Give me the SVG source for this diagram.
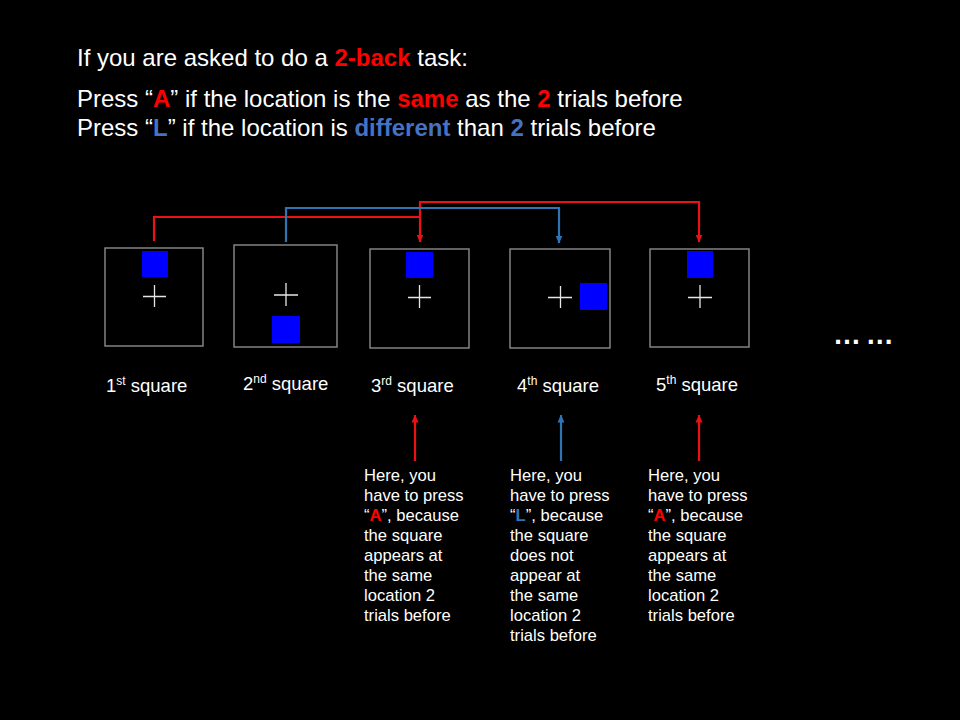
<svg xmlns="http://www.w3.org/2000/svg" width="960" height="720" viewBox="0 0 960 720">
<style>
text{font-family:"Liberation Sans",Arial,sans-serif;fill:#fff}
.h{font-size:24px}
.lab{font-size:18.5px}
.sup{font-size:12px}
.note{font-size:16.6px}
.r{fill:#ff0000;font-weight:bold}
.b{fill:#4472c4;font-weight:bold}
.box{fill:none;stroke:#8c8c8c;stroke-width:1.4}
.x{stroke:#e6e6e6;stroke-width:1.3;fill:none}
.sq{fill:#0000ff}
.cr{fill:none;stroke:#ee1111;stroke-width:2.2}
.cb{fill:none;stroke:#2e75b6;stroke-width:2.2}
</style>
<defs>
<marker id="ar" viewBox="0 0 8 8" refX="7.5" refY="4" markerWidth="8" markerHeight="8" markerUnits="userSpaceOnUse" orient="auto"><path d="M0,0.5 L8,4 L0,7.5 Z" fill="#ee1111"/></marker>
<marker id="ab" viewBox="0 0 8 8" refX="7.5" refY="4" markerWidth="8" markerHeight="8" markerUnits="userSpaceOnUse" orient="auto"><path d="M0,0.5 L8,4 L0,7.5 Z" fill="#2e75b6"/></marker>
</defs>
<rect width="960" height="720" fill="#000"/>

<g id="heading">
<text class="h" x="77" y="66">If you are asked to do a <tspan class="r">2-back</tspan> task:</text>
<text class="h" x="77" y="107">Press “<tspan class="r">A</tspan>” if the location is the <tspan class="r">same</tspan> as the <tspan class="r">2</tspan> trials before</text>
<text class="h" x="77" y="136">Press “<tspan class="b">L</tspan>” if the location is <tspan class="b">different</tspan> than <tspan class="b">2</tspan> trials before</text>
</g>

<g id="connectors">
<path class="cr" d="M154,241 V217 H420 V242" marker-end="url(#ar)"/>
<path class="cr" d="M420,217 V202 H699 V242" marker-end="url(#ar)"/>
<path class="cb" d="M286,242 V208 H559 V243" marker-end="url(#ab)"/>
<path class="cr" d="M415,461 V415" marker-end="url(#ar)"/>
<path class="cb" d="M561,461 V415" marker-end="url(#ab)"/>
<path class="cr" d="M699,461 V415" marker-end="url(#ar)"/>
</g>

<g id="square1">
<rect class="box" x="105" y="248" width="98" height="98"/>
<rect class="sq" x="142" y="251" width="26" height="26"/>
<path class="x" d="M143,296.5 H166 M154.5,285 V307"/>
<text class="lab" x="106" y="392">1<tspan class="sup" dy="-7">st</tspan><tspan dy="7"> square</tspan></text>
</g>

<g id="square2">
<rect class="box" x="234" y="245" width="103" height="102"/>
<rect class="sq" x="272" y="316" width="28" height="27"/>
<path class="x" d="M274,295 H298 M286,283 V306"/>
<text class="lab" x="243" y="390">2<tspan class="sup" dy="-7">nd</tspan><tspan dy="7"> square</tspan></text>
</g>

<g id="square3">
<rect class="box" x="370" y="249" width="99" height="99"/>
<rect class="sq" x="406" y="252" width="27" height="26"/>
<path class="x" d="M408,297.5 H431 M419.5,285 V308"/>
<text class="lab" x="371" y="392">3<tspan class="sup" dy="-7">rd</tspan><tspan dy="7"> square</tspan></text>
</g>

<g id="square4">
<rect class="box" x="510" y="249" width="100" height="99"/>
<rect class="sq" x="580" y="283" width="27" height="27"/>
<path class="x" d="M548,297.5 H572 M560.5,286 V308"/>
<text class="lab" x="517" y="392">4<tspan class="sup" dy="-7">th</tspan><tspan dy="7"> square</tspan></text>
</g>

<g id="square5">
<rect class="box" x="650" y="249" width="99" height="98"/>
<rect class="sq" x="687" y="251" width="26" height="27"/>
<path class="x" d="M688,297.5 H712 M700,285 V308"/>
<text class="lab" x="656" y="391">5<tspan class="sup" dy="-7">th</tspan><tspan dy="7"> square</tspan></text>
</g>

<g id="ellipsis">
<text x="833" y="344" font-size="28" font-weight="bold" letter-spacing="-1.5">… …</text>
</g>

<g id="note3">
<text class="note" x="364" y="481">Here, you</text>
<text class="note" x="364" y="501">have to press</text>
<text class="note" x="364" y="521">“<tspan class="r">A</tspan>”, because</text>
<text class="note" x="364" y="541">the square</text>
<text class="note" x="364" y="561">appears at</text>
<text class="note" x="364" y="581">the same</text>
<text class="note" x="364" y="601">location 2</text>
<text class="note" x="364" y="621">trials before</text>
</g>

<g id="note4">
<text class="note" x="510" y="481">Here, you</text>
<text class="note" x="510" y="501">have to press</text>
<text class="note" x="510" y="521">“<tspan style="fill:#2e75b6;font-weight:bold">L</tspan>”, because</text>
<text class="note" x="510" y="541">the square</text>
<text class="note" x="510" y="561">does not</text>
<text class="note" x="510" y="581">appear at</text>
<text class="note" x="510" y="601">the same</text>
<text class="note" x="510" y="621">location 2</text>
<text class="note" x="510" y="641">trials before</text>
</g>

<g id="note5">
<text class="note" x="648" y="481">Here, you</text>
<text class="note" x="648" y="501">have to press</text>
<text class="note" x="648" y="521">“<tspan class="r">A</tspan>”, because</text>
<text class="note" x="648" y="541">the square</text>
<text class="note" x="648" y="561">appears at</text>
<text class="note" x="648" y="581">the same</text>
<text class="note" x="648" y="601">location 2</text>
<text class="note" x="648" y="621">trials before</text>
</g>
</svg>
